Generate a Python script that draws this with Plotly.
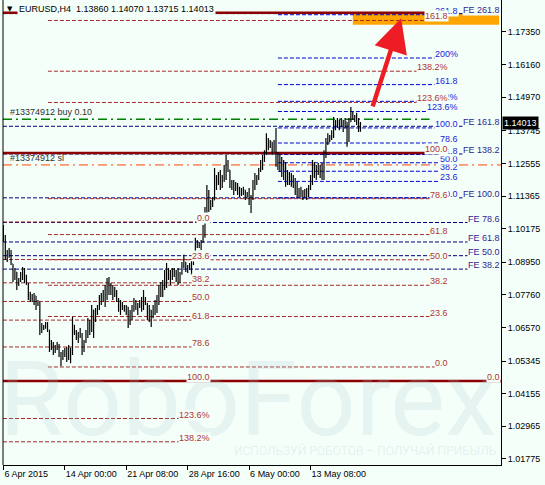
import plotly.graph_objects as go

# ---------------- data (EURUSD H4) ----------------
bar_index = list(range(187))
open_ = [1.1020,1.0984,1.0932,1.0918,1.0932,1.0889,1.0838,1.0859,1.0812,1.0830,
         1.0852,1.0867,1.0830,1.0816,1.0768,1.0776,1.0757,1.0772,1.0739,1.0750,
         1.0648,1.0662,1.0655,1.0670,1.0648,1.0593,1.0600,1.0568,1.0586,1.0593,
         1.0557,1.0546,1.0564,1.0575,1.0546,1.0582,1.0568,1.0666,1.0641,1.0626,
         1.0630,1.0626,1.0575,1.0604,1.0637,1.0677,1.0648,1.0721,1.0692,1.0714,
         1.0728,1.0757,1.0772,1.0787,1.0801,1.0812,1.0794,1.0801,1.0776,1.0787,
         1.0757,1.0728,1.0739,1.0728,1.0721,1.0732,1.0677,1.0703,1.0728,1.0750,
         1.0735,1.0743,1.0750,1.0765,1.0757,1.0746,1.0703,1.0721,1.0692,1.0728,
         1.0750,1.0768,1.0801,1.0812,1.0823,1.0856,1.0867,1.0849,1.0838,1.0859,
         1.0852,1.0841,1.0830,1.0852,1.0885,1.0896,1.0874,1.0878,1.0881,1.0892,
         1.0918,1.0965,1.0958,1.0962,1.0969,1.1020,1.1078,1.1140,1.1104,1.1111,
         1.1122,1.1202,1.1188,1.1210,1.1177,1.1195,1.1239,1.1261,1.1232,1.1188,
         1.1177,1.1159,1.1173,1.1151,1.1159,1.1144,1.1159,1.1137,1.1144,1.1122,
         1.1130,1.1177,1.1202,1.1210,1.1232,1.1257,1.1275,1.1297,1.1341,1.1323,
         1.1334,1.1304,1.1330,1.1268,1.1250,1.1268,1.1224,1.1250,1.1195,1.1213,
         1.1188,1.1202,1.1177,1.1159,1.1140,1.1151,1.1140,1.1133,1.1151,1.1137,
         1.1166,1.1202,1.1250,1.1224,1.1232,1.1239,1.1213,1.1210,1.1297,1.1334,
         1.1352,1.1345,1.1366,1.1407,1.1388,1.1407,1.1392,1.1414,1.1385,1.1407,
         1.1341,1.1407,1.1443,1.1425,1.1418,1.1407,1.13860]
high = [1.1031,1.0994,1.0940,1.0947,1.0940,1.0889,1.0874,1.0859,1.0838,1.0859,
        1.0878,1.0874,1.0849,1.0819,1.0787,1.0779,1.0783,1.0772,1.0757,1.0750,
        1.0673,1.0666,1.0677,1.0677,1.0648,1.0611,1.0604,1.0593,1.0604,1.0597,
        1.0568,1.0575,1.0582,1.0586,1.0593,1.0582,1.0695,1.0666,1.0648,1.0641,
        1.0655,1.0637,1.0611,1.0648,1.0692,1.0684,1.0739,1.0721,1.0728,1.0739,
        1.0776,1.0783,1.0794,1.0812,1.0838,1.0841,1.0819,1.0812,1.0805,1.0794,
        1.0765,1.0757,1.0750,1.0739,1.0739,1.0732,1.0721,1.0739,1.0765,1.0757,
        1.0746,1.0757,1.0768,1.0794,1.0768,1.0746,1.0739,1.0721,1.0739,1.0757,
        1.0776,1.0812,1.0823,1.0830,1.0867,1.0892,1.0874,1.0867,1.0874,1.0874,
        1.0867,1.0874,1.0859,1.0896,1.0922,1.0896,1.0885,1.0892,1.0900,1.0922,
        1.0984,1.0976,1.0969,1.0976,1.1031,1.1097,1.1177,1.1159,1.1122,1.1133,
        1.1239,1.1213,1.1224,1.1232,1.1213,1.1250,1.1286,1.1268,1.1232,1.1195,
        1.1195,1.1188,1.1184,1.1170,1.1166,1.1170,1.1159,1.1151,1.1166,1.1140,
        1.1195,1.1221,1.1213,1.1239,1.1268,1.1286,1.1304,1.1366,1.1348,1.1341,
        1.1334,1.1341,1.1385,1.1297,1.1286,1.1279,1.1268,1.1261,1.1232,1.1224,
        1.1221,1.1213,1.1202,1.1188,1.1166,1.1170,1.1159,1.1162,1.1166,1.1177,
        1.1213,1.1268,1.1261,1.1250,1.1257,1.1250,1.1257,1.1304,1.1348,1.1366,
        1.1359,1.1377,1.1425,1.1414,1.1421,1.1414,1.1421,1.1414,1.1421,1.1407,
        1.1421,1.1461,1.1443,1.1432,1.1440,1.1421,1.14070]
low = [1.0969,1.0903,1.0896,1.0911,1.0885,1.0823,1.0830,1.0794,1.0808,1.0823,
       1.0830,1.0819,1.0812,1.0757,1.0750,1.0750,1.0739,1.0721,1.0735,1.0630,
       1.0637,1.0648,1.0652,1.0641,1.0568,1.0575,1.0557,1.0564,1.0575,1.0549,
       1.0516,1.0538,1.0549,1.0531,1.0538,1.0527,1.0557,1.0630,1.0611,1.0600,
       1.0619,1.0557,1.0568,1.0600,1.0619,1.0630,1.0641,1.0619,1.0677,1.0703,
       1.0721,1.0739,1.0750,1.0732,1.0757,1.0776,1.0776,1.0757,1.0768,1.0750,
       1.0714,1.0703,1.0721,1.0714,1.0703,1.0655,1.0666,1.0684,1.0714,1.0721,
       1.0703,1.0728,1.0714,1.0721,1.0739,1.0684,1.0677,1.0659,1.0692,1.0703,
       1.0710,1.0739,1.0768,1.0768,1.0794,1.0801,1.0830,1.0812,1.0830,1.0841,
       1.0823,1.0812,1.0819,1.0849,1.0874,1.0859,1.0856,1.0867,1.0849,1.0885,
       1.0918,1.0947,1.0947,1.0940,1.0965,1.0984,1.1049,1.1078,1.1086,1.1097,
       1.1122,1.1159,1.1177,1.1159,1.1166,1.1188,1.1195,1.1224,1.1166,1.1159,
       1.1140,1.1155,1.1140,1.1133,1.1137,1.1140,1.1122,1.1130,1.1104,1.1075,
       1.1122,1.1159,1.1177,1.1195,1.1224,1.1232,1.1261,1.1286,1.1304,1.1312,
       1.1286,1.1297,1.1243,1.1232,1.1224,1.1206,1.1195,1.1170,1.1177,1.1177,
       1.1170,1.1166,1.1140,1.1130,1.1130,1.1133,1.1122,1.1130,1.1122,1.1133,
       1.1159,1.1177,1.1202,1.1195,1.1213,1.1202,1.1195,1.1195,1.1275,1.1323,
       1.1334,1.1341,1.1348,1.1377,1.1385,1.1377,1.1388,1.1370,1.1385,1.1316,
       1.1334,1.1407,1.1414,1.1407,1.1396,1.1370,1.13715]
close = [1.0984,1.0932,1.0918,1.0932,1.0889,1.0838,1.0859,1.0812,1.0830,1.0852,
         1.0867,1.0830,1.0816,1.0768,1.0776,1.0757,1.0772,1.0739,1.0750,1.0648,
         1.0662,1.0655,1.0670,1.0648,1.0593,1.0600,1.0568,1.0586,1.0593,1.0557,
         1.0546,1.0564,1.0575,1.0546,1.0582,1.0568,1.0666,1.0641,1.0626,1.0630,
         1.0626,1.0575,1.0604,1.0637,1.0677,1.0648,1.0721,1.0692,1.0714,1.0728,
         1.0757,1.0772,1.0787,1.0801,1.0812,1.0794,1.0801,1.0776,1.0787,1.0757,
         1.0728,1.0739,1.0728,1.0721,1.0732,1.0677,1.0703,1.0728,1.0750,1.0735,
         1.0743,1.0750,1.0765,1.0757,1.0746,1.0703,1.0721,1.0692,1.0728,1.0750,
         1.0768,1.0801,1.0812,1.0823,1.0856,1.0867,1.0849,1.0838,1.0859,1.0852,
         1.0841,1.0830,1.0852,1.0885,1.0896,1.0874,1.0878,1.0881,1.0892,1.0918,
         1.0965,1.0958,1.0962,1.0969,1.1020,1.1078,1.1140,1.1104,1.1111,1.1122,
         1.1202,1.1188,1.1210,1.1177,1.1195,1.1239,1.1261,1.1232,1.1188,1.1177,
         1.1159,1.1173,1.1151,1.1159,1.1144,1.1159,1.1137,1.1144,1.1122,1.1130,
         1.1177,1.1202,1.1210,1.1232,1.1257,1.1275,1.1297,1.1341,1.1323,1.1334,
         1.1304,1.1330,1.1268,1.1250,1.1268,1.1224,1.1250,1.1195,1.1213,1.1188,
         1.1202,1.1177,1.1159,1.1140,1.1151,1.1140,1.1133,1.1151,1.1137,1.1166,
         1.1202,1.1250,1.1224,1.1232,1.1239,1.1213,1.1210,1.1297,1.1334,1.1352,
         1.1345,1.1366,1.1407,1.1388,1.1407,1.1392,1.1414,1.1385,1.1407,1.1341,
         1.1407,1.1443,1.1425,1.1418,1.1407,1.1385,1.14013]

x_tick_pos = [0, 32, 64, 96, 128, 160]
x_tick_text = ["6 Apr 2015", "14 Apr 00:00", "21 Apr 08:00", "28 Apr 16:00",
               "6 May 00:00", "13 May 08:00"]
y_tick_vals = [1.01775, 1.02965, 1.04155, 1.05345, 1.06570, 1.07760, 1.08950,
               1.10175, 1.11365, 1.12555, 1.13745, 1.14970, 1.16160, 1.17350]

title_text = "EURUSD,H4  1.13860 1.14070 1.13715 1.14013"
last_price = 1.14013

# Fibonacci retracement (left, short)
fibL_labels = ["0.0", "23.6", "38.2", "50.0", "61.8", "78.6", "100.0", "123.6%", "138.2%"]
fibL_prices = [1.1042, 1.0905, 1.0820, 1.0752, 1.0684, 1.0586, 1.0462, 1.0325, 1.0240]
fibL_span = [-0.2, 107.6]
# Fibonacci retracement (long, red)
fibM_labels = ["0.0", "23.6", "38.2", "50.0", "61.8", "78.6", "100.0", "123.6%", "138.2%", "161.8"]
fibM_prices = [1.0513, 1.0697, 1.0811, 1.0904, 1.0996, 1.1127, 1.1294, 1.1478, 1.1592, 1.1777]
fibM_span = [23.2, 231.6]
# Fibonacci retracement (blue)
fibB_labels = ["0.0", "23.6", "38.2", "50.0", "61.8", "78.6", "100.0", "123.6%", "138.2%",
               "161.8", "200%", "261.8"]
fibB_prices = [1.1130, 1.1190, 1.1227, 1.1258, 1.1288, 1.1330, 1.1385, 1.1445, 1.1482,
               1.1543, 1.1640, 1.1798]
fibB_span = [143.0, 236.8]
# Fibonacci expansion
fe_labels = ["FE 38.2", "FE 50.0", "FE 61.8", "FE 78.6", "FE 100.0", "FE 138.2", "FE 161.8", "FE 261.8"]
fe_prices = [1.0870, 1.0919, 1.0969, 1.1040, 1.1130, 1.1290, 1.1391, 1.1802]
fe_span = [-0.2, 258.7]

# solid horizontal lines
solid_prices = [1.1805, 1.1294, 1.0462]
solid_ends = [231.6, 231.6, 259.2]
bottom_line_label = "0.0"

# orders
buy_price, buy_text, buy_end = 1.1417, "#13374912 buy 0.10", 222.0
sl_price, sl_text = 1.1250, "#13374912 sl"

# target zone + arrow
target_x = [182.0, 258.2]
target_y = [1.1761, 1.1801]
arrow_tail = (192.1, 1.1458)
arrow_tip = (207.2, 1.1785)

BG = "#F5FFFA"
FONT = "Liberation Sans, Arial, sans-serif"
RED_LINE = "#A52A2A"
RED_TXT = "#B03333"
BLUE_LINE = "#0000CC"
BLUE_TXT = "#2323D8"
FE_LINE = "#000080"
FE_TXT = "#2E1F8F"
X0, X1 = -0.2, 259.2
Y0, Y1 = 1.01554, 1.18517

fig = go.Figure()
fig.add_trace(go.Ohlc(
    x=bar_index, open=open_, high=high, low=low, close=close,
    increasing=dict(line=dict(color="black", width=1.2)),
    decreasing=dict(line=dict(color="black", width=1.2)),
    tickwidth=0.3, hoverinfo="skip", showlegend=False))

shapes = []
def hline(y, x0, x1, color, dash="solid", width=1):
    shapes.append(dict(type="line", xref="x", yref="y", x0=x0, x1=x1, y0=y, y1=y,
                       line=dict(color=color, width=width, dash=dash), layer="below"))

shapes.append(dict(type="rect", xref="x", yref="y", x0=target_x[0], x1=target_x[1],
                   y0=target_y[0], y1=target_y[1], fillcolor="#FFA500",
                   line=dict(width=0), layer="below"))
for p in fe_prices:
    hline(p, fe_span[0], fe_span[1], FE_LINE, "4px,2px")
for p in fibB_prices:
    hline(p, fibB_span[0], fibB_span[1], BLUE_LINE, "4px,2px")
for p in fibM_prices:
    hline(p, fibM_span[0], fibM_span[1], RED_LINE, "4px,2px")
for p in fibL_prices:
    hline(p, fibL_span[0], fibL_span[1], RED_LINE, "4px,2px")
hline(buy_price, X0, buy_end, "#008000", "9px,4px,2px,4px", 1.5)
hline(sl_price, X0, X1, "#FF4500", "9px,4px,2px,4px", 1)
for p, e in zip(solid_prices, solid_ends):
    hline(p, X0, e, "#8B0000", "solid", 2.5)
# left frame
shapes.append(dict(type="line", xref="paper", yref="paper", x0=0, x1=0, y0=0, y1=1,
                   line=dict(color="black", width=1)))

ann = []
def label(x, y, text, color, bg=True, size=9):
    ann.append(dict(x=x, y=y, xref="x", yref="y", text=text, showarrow=False,
                    xanchor="right", yanchor="bottom", yshift=-2, xshift=1,
                    font=dict(family=FONT, size=size, color=color),
                    bgcolor=BG if bg else None, borderpad=0))

# watermark
ann.append(dict(x=-0.012, y=0.14, xref="paper", yref="paper", text="RoboForex",
                showarrow=False, xanchor="left", yanchor="middle",
                font=dict(family="Roboto, sans-serif", size=104, color="rgba(170,200,205,0.2)")))
ann.append(dict(x=0.459, y=0.032, xref="paper", yref="paper",
                text="ИСПОЛЬЗУЙ РОБОТОВ – ПОЛУЧАЙ ПРИБЫЛЬ",
                showarrow=False, xanchor="left", yanchor="middle",
                font=dict(family="Roboto, sans-serif", size=12, color="rgba(170,200,205,0.25)")))

for t, p in zip(fe_labels, fe_prices):
    label(fe_span[1], p, t, FE_TXT)
for t, p in zip(fibB_labels, fibB_prices):
    label(fibB_span[1], p, t, BLUE_TXT)
for t, p in zip(fibM_labels, fibM_prices):
    label(fibM_span[1], p, t, RED_TXT)
for t, p in zip(fibL_labels, fibL_prices):
    label(fibL_span[1], p, t, RED_TXT)
label(X1 - 0.4, solid_prices[2], bottom_line_label, RED_TXT)

# order labels
ann.append(dict(x=2.4, y=buy_price, xref="x", yref="y", text=buy_text, showarrow=False,
                xanchor="left", yanchor="bottom", yshift=0,
                font=dict(family=FONT, size=9, color="#303030")))
ann.append(dict(x=2.4, y=sl_price, xref="x", yref="y", text=sl_text, showarrow=False,
                xanchor="left", yanchor="bottom", yshift=0,
                font=dict(family=FONT, size=9, color="#303030")))

# arrow
ann.append(dict(x=arrow_tip[0], y=arrow_tip[1], ax=arrow_tail[0], ay=arrow_tail[1],
                xref="x", yref="y", axref="x", ayref="y", text="", showarrow=True,
                arrowhead=2, arrowsize=1.5, arrowwidth=4.5, arrowcolor="#EE1C24"))

# title
ann.append(dict(x=0.028, y=0.995, xref="paper", yref="paper", text=title_text,
                showarrow=False, xanchor="left", yanchor="top",
                font=dict(family=FONT, size=9, color="black"), bgcolor=BG, borderpad=1))
ann.append(dict(x=0.004, y=0.993, xref="paper", yref="paper", text="▼",
                showarrow=False, xanchor="left", yanchor="top",
                font=dict(family="DejaVu Sans", size=7, color="black")))

# current price tag
ann.append(dict(x=1, y=last_price, xref="paper", yref="y", text="%.5f" % last_price,
                showarrow=False, xanchor="left", yanchor="middle", xshift=1,
                font=dict(family=FONT, size=9, color="white"), bgcolor="black", borderpad=1))

fig.update_layout(
    width=545, height=485,
    margin=dict(l=3, r=44, t=0, b=20),
    paper_bgcolor=BG, plot_bgcolor=BG,
    showlegend=False, hovermode=False,
    shapes=shapes, annotations=ann,
    xaxis=dict(range=[X0, X1], showgrid=False, zeroline=False, rangeslider=dict(visible=False),
               tickvals=x_tick_pos, ticktext=x_tick_text, ticks="outside", ticklen=4,
               tickcolor="black", ticklabelposition="outside right",
               showline=True, linecolor="black", linewidth=1,
               tickfont=dict(family=FONT, size=9, color="black")),
    yaxis=dict(range=[Y0, Y1], side="right", showgrid=False, zeroline=False,
               tickvals=y_tick_vals, ticktext=["%.5f" % v for v in y_tick_vals],
               ticks="outside", ticklen=4, tickcolor="black",
               showline=True, linecolor="black", linewidth=1,
               tickfont=dict(family=FONT, size=9, color="black")),
)

fig.write_html("out.html", include_plotlyjs=True, config={"displayModeBar": False},
               post_script="document.body.style.margin='0';document.body.style.background='%s';" % BG)
